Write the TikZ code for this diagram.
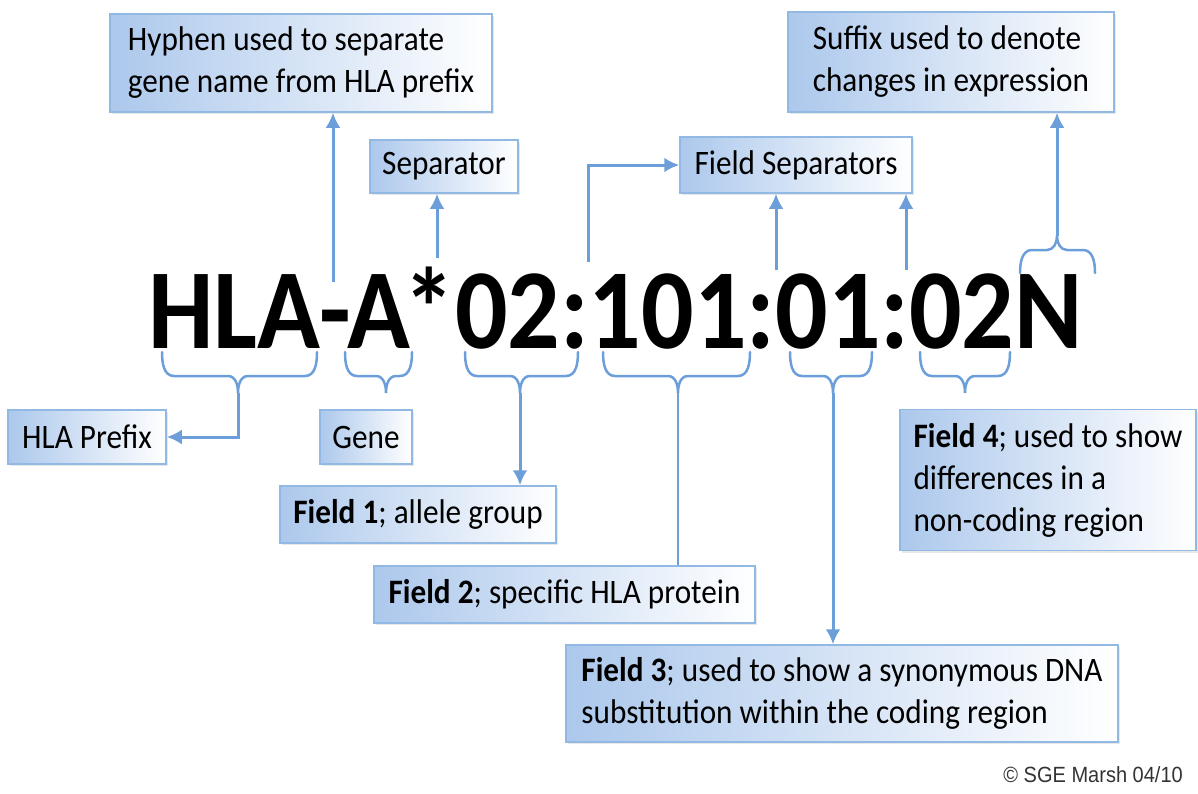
\documentclass[tikz,border=0pt]{standalone}
\usepackage{fontspec}
\setmainfont{Carlito}[FakeStretch=0.91]
\newfontfamily\copyfont{Liberation Sans}[FakeStretch=0.91]
\usetikzlibrary{arrows.meta,shadows}
\definecolor{lineblue}{RGB}{108,158,218}
\definecolor{boxborder}{RGB}{146,184,228}
\definecolor{boxfill}{RGB}{172,200,236}
\tikzset{
  infobox/.style={draw=boxborder, line width=1.5pt, left color=boxfill, right color=white,
    inner sep=0pt, align=left, text=black,
    font=\fontsize{34.3}{42}\selectfont,
    drop shadow={opacity=0.18, shadow xshift=2pt, shadow yshift=-2pt}},
  conn/.style={draw=lineblue, line width=3pt, -{Latex[length=15pt,width=15pt]}},
  connplain/.style={draw=lineblue, line width=2.5pt},
  bracestyle/.style={draw=lineblue, line width=2.5pt, line cap=round}
}
\newcommand\lowbrace[3]{\draw[bracestyle] (#1,352) to[out=-90,in=180] ({#1+12},376) -- ({#3-10},376) to[out=0,in=90] (#3,393) to[out=90,in=180] ({#3+10},376) -- ({#2-12},376) to[out=0,in=-90] (#2,352);}
\begin{document}
\begin{tikzpicture}[x=1pt,y=-1pt]
\useasboundingbox (0,0) rectangle (1198,793);
% big text
\node[anchor=base west, inner sep=0pt, font=\fontsize{114}{114}\selectfont\bfseries] (code) at (148,348) {HLA-A\kern-7pt*02:101:01:02N};
% boxes
\node[infobox, minimum width=382pt, minimum height=98pt] (hyph) at (301,63) {Hyphen used to separate\\gene name from HLA prefix};
\node[infobox, minimum width=148pt, minimum height=53pt] (sep) at (444,166.5) {Separator};
\node[infobox, minimum width=232pt, minimum height=56pt] (fsep) at (796,165) {Field Separators};
\node[infobox, minimum width=326pt, minimum height=100pt] (suf) at (951,62) {Suffix used to denote\\changes in expression};
\node[infobox, minimum width=158pt, minimum height=54pt] (hlap) at (87,437) {HLA Prefix};
\node[infobox, minimum width=92pt, minimum height=54pt] (gene) at (366,437) {Gene};
\node[infobox, minimum width=276pt, minimum height=57pt] (f1) at (418,514.5) {\textbf{Field 1}; allele group};
\node[infobox, minimum width=381pt, minimum height=57pt] (f2) at (564.5,594.5) {\textbf{Field 2}; specific HLA protein};
\node[infobox, minimum width=552pt, minimum height=97pt] (f3) at (842,693.5) {\textbf{Field 3}; used to show a synonymous DNA\\substitution within the coding region};
\node[infobox, minimum width=296pt, minimum height=141pt] (f4) at (1048,480) {\textbf{Field 4}; used to show\\differences in a\\non-coding region};
% copyright
\node[anchor=base east, inner sep=0pt, font=\copyfont\fontsize{22}{22}\selectfont, text=black!80] (copy) at (1183,782) {\textcopyright{} SGE Marsh 04/10};
% lower braces
\lowbrace{162}{317}{238}
\lowbrace{345}{412}{386}
\lowbrace{465}{578}{520}
\lowbrace{603}{750}{678}
\lowbrace{790}{872}{833}
\lowbrace{920}{1010}{965}
\coordinate (tHLA) at (238,393);
\coordinate (t02) at (520,393);
\coordinate (t101) at (678,393);
\coordinate (t01) at (833,393);
% upper brace over N
\draw[bracestyle] (1020,273) to[out=90,in=180] (1032,250) -- (1047,250) to[out=0,in=-90] (1057,236) to[out=-90,in=180] (1067,250) -- (1083,250) to[out=0,in=90] (1095,273);
\coordinate (tN) at (1057,236);
% connectors
\draw[conn] (tHLA) |- (hlap.east);
\draw[conn] (t02) -- (t02 |- f1.north);
\draw[connplain] (t101) -- (t101 |- f2.north);
\draw[conn] (t01) -- (t01 |- f3.north);
\draw[conn] (tN) -- (tN |- suf.south);
\coordinate (hy) at (333,282);
\draw[conn] (hy) -- (hy |- hyph.south);
\coordinate (st) at (437,258);
\draw[conn] (st) -- (st |- sep.south);
\coordinate (c1) at (588,262);
\draw[conn] (c1) |- (fsep.west);
\coordinate (c2) at (776,270);
\draw[conn] (c2) -- (c2 |- fsep.south);
\coordinate (c3) at (906,270);
\draw[conn] (c3) -- (c3 |- fsep.south);
\end{tikzpicture}
\end{document}
